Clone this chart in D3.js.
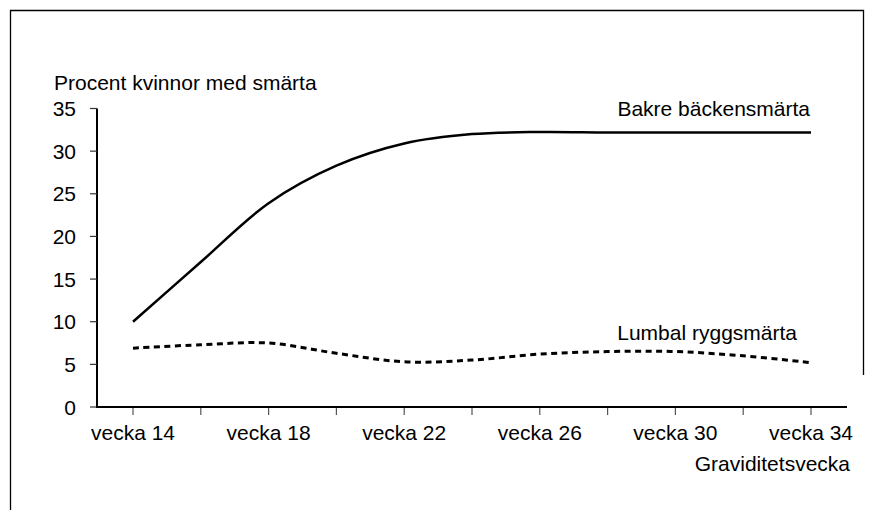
<!DOCTYPE html>
<html>
<meta charset="utf-8">
<style>
    body { margin: 0; background: #fff; }
    svg { display: block; }
    text { font-family: Arial, "Liberation Sans", sans-serif; font-size: 21px; fill: #000; }
</style>
<body>
<script src="https://d3js.org/d3.v7.min.js"></script>
<div id="chart"></div>
<script>
// weeks of pregnancy, one point every 2nd week
var weeks = [14, 16, 18, 20, 22, 24, 26, 28, 30, 32, 34];
var tickLabels = ["vecka 14", "", "vecka 18", "", "vecka 22", "", "vecka 26", "", "vecka 30", "", "vecka 34"];
var bakre = [10, 17, 23.9, 28.3, 30.9, 32, 32.25, 32.2, 32.2, 32.2, 32.2];
var lumbal = [6.9, 7.3, 7.5, 6.3, 5.3, 5.5, 6.2, 6.5, 6.5, 6.0, 5.2];
var yTicks = [0, 5, 10, 15, 20, 25, 30, 35];

var width = 874, height = 510;

var svg = d3.select("#chart").append("svg")
    .attr("width", width)
    .attr("height", height);

// frame (left, top and right edge)
svg.append("path")
    .attr("d", "M10.5,510 L10.5,10.5 L863.5,10.5 L863.5,375")
    .attr("fill", "none")
    .attr("stroke", "#000")
    .attr("stroke-width", 1.3);

var x = d3.scalePoint().domain(weeks).range([133, 811]);
var y = d3.scaleLinear().domain([0, 35]).range([407, 108.5]);

// y axis
svg.append("line")
    .attr("x1", 97).attr("x2", 97)
    .attr("y1", y(35)).attr("y2", y(0) + 1)
    .attr("stroke", "#000").attr("stroke-width", 2);

svg.selectAll(".ytick").data(yTicks).enter().append("line")
    .attr("x1", 90).attr("x2", 97)
    .attr("y1", function(d) { return y(d); })
    .attr("y2", function(d) { return y(d); })
    .attr("stroke", "#333").attr("stroke-width", 1.2);

svg.selectAll(".ylab").data(yTicks).enter().append("text")
    .attr("x", 76)
    .attr("y", function(d) { return y(d) + 7.5; })
    .attr("text-anchor", "end")
    .text(function(d) { return d; });

// x axis
svg.append("line")
    .attr("x1", 96).attr("x2", 847)
    .attr("y1", y(0)).attr("y2", y(0))
    .attr("stroke", "#000").attr("stroke-width", 2);

svg.selectAll(".xtick").data(weeks).enter().append("line")
    .attr("x1", function(d) { return x(d); })
    .attr("x2", function(d) { return x(d); })
    .attr("y1", y(0) + 1).attr("y2", y(0) + 8)
    .attr("stroke", "#555").attr("stroke-width", 1.2);

svg.selectAll(".xlab").data(weeks).enter().append("text")
    .attr("x", function(d) { return x(d); })
    .attr("y", 440)
    .attr("text-anchor", "middle")
    .text(function(d, i) { return tickLabels[i]; });

// axis titles
svg.append("text").attr("x", 54).attr("y", 90).text("Procent kvinnor med smärta");
svg.append("text").attr("x", 850).attr("y", 471).attr("text-anchor", "end").text("Graviditetsvecka");

// lines
var line = d3.line()
    .x(function(d, i) { return x(weeks[i]); })
    .y(function(d) { return y(d); })
    .curve(d3.curveCatmullRom.alpha(0.5));

svg.append("path")
    .datum(bakre)
    .attr("d", line)
    .attr("fill", "none")
    .attr("stroke", "#000")
    .attr("stroke-width", 2.5);

svg.append("path")
    .datum(lumbal)
    .attr("d", line)
    .attr("fill", "none")
    .attr("stroke", "#000")
    .attr("stroke-width", 3)
    .attr("stroke-dasharray", "6,4.5");

// series labels
svg.append("text").attr("x", 810).attr("y", 116).attr("text-anchor", "end").text("Bakre bäckensmärta");
svg.append("text").attr("x", 797).attr("y", 340).attr("text-anchor", "end").text("Lumbal ryggsmärta");
</script>
</body>
</html>
